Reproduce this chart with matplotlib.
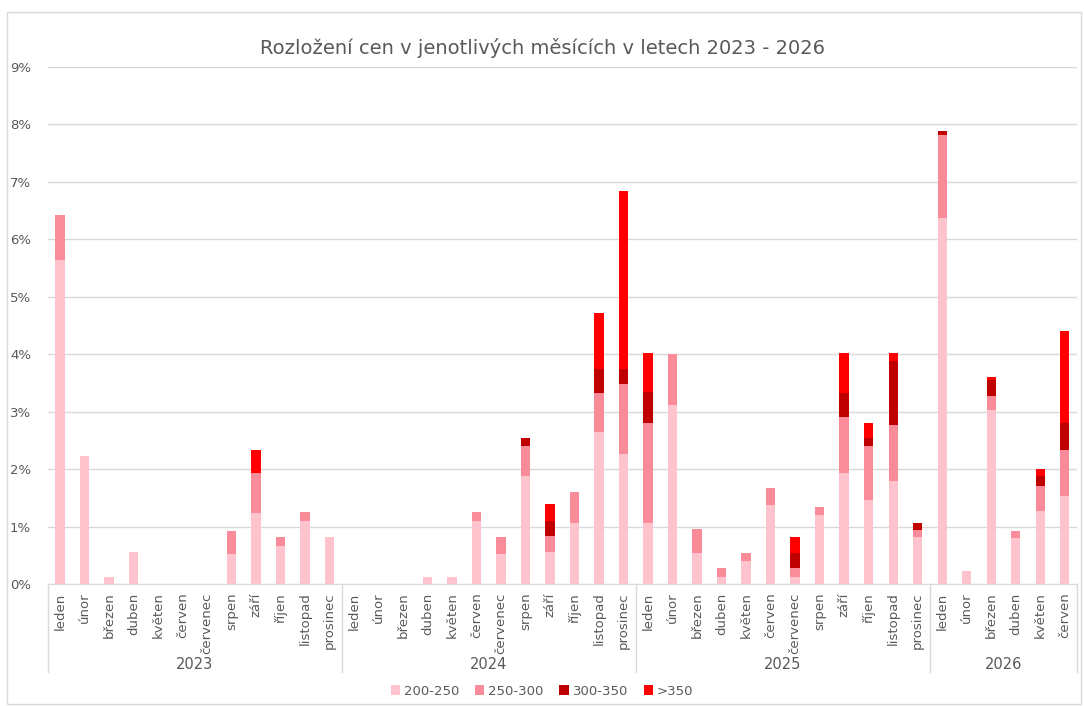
import matplotlib
import matplotlib.pyplot as plt
from matplotlib.patches import Rectangle
from matplotlib.ticker import PercentFormatter
import numpy as np

matplotlib.use('Agg')

years = ['2023', '2024', '2025', '2026']
months = ['leden', 'únor', 'březen', 'duben', 'květen', 'červen', 'červenec',
          'srpen', 'září', 'říjen', 'listopad', 'prosinec']
months_per_year = [12, 12, 12, 6]

series_names = ['200-250', '250-300', '300-350', '>350']
colors = ['#FFC3CE', '#FA8C9A', '#C00000', '#FF0000']

# hodnoty v procentech
p200_250 = [5.64, 2.23, 0.13, 0.56, 0, 0, 0, 0.53, 1.24, 0.67, 1.10, 0.81,
            0, 0, 0, 0.13, 0.13, 1.10, 0.53, 1.88, 0.56, 1.07, 2.64, 2.27,
            1.07, 3.12, 0.54, 0.13, 0.40, 1.37, 0.13, 1.20, 1.94, 1.47, 1.80, 0.81,
            6.37, 0.22, 3.03, 0.80, 1.27, 1.53]
p250_300 = [0.79, 0, 0, 0, 0, 0, 0, 0.40, 0.70, 0.14, 0.15, 0,
            0, 0, 0, 0, 0, 0.15, 0.28, 0.53, 0.27, 0.53, 0.68, 1.21,
            1.74, 0.88, 0.41, 0.14, 0.14, 0.30, 0.14, 0.14, 0.97, 0.94, 0.97, 0.13,
            1.44, 0, 0.25, 0.13, 0.43, 0.81]
p300_350 = [0, 0, 0, 0, 0, 0, 0, 0, 0, 0, 0, 0,
            0, 0, 0, 0, 0, 0, 0, 0.14, 0.27, 0, 0.42, 0.27,
            0.53, 0, 0, 0, 0, 0, 0.27, 0, 0.41, 0.14, 1.11, 0.13,
            0.07, 0, 0.27, 0, 0.18, 0.47]
p350 = [0, 0, 0, 0, 0, 0, 0, 0, 0.40, 0, 0, 0,
        0, 0, 0, 0, 0, 0, 0, 0, 0.29, 0, 0.97, 3.09,
        0.68, 0, 0, 0, 0, 0, 0.27, 0, 0.70, 0.26, 0.14, 0,
        0, 0, 0.05, 0, 0.13, 1.59]

labels = []
for n in months_per_year:
    labels += months[:n]

data = np.array([p200_250, p250_300, p300_350, p350]) / 100
x = np.arange(len(labels))

fig = plt.figure(figsize=(10.84, 7.06), dpi=100)
ax = fig.add_axes([0.044, 0.1728, 0.9495, 0.7323])

bottom = np.zeros(len(labels))
for name, vals, c in zip(series_names, data, colors):
    ax.bar(x, vals, 0.38, bottom=bottom, color=c, label=name, zorder=3)
    bottom += vals

gray = '#595959'
line = '#D9D9D9'
ax.set_ylim(0, 0.09)
ax.set_yticks(np.arange(0, 0.091, 0.01))
ax.yaxis.set_major_formatter(PercentFormatter(1, decimals=0))
ax.set_xlim(-0.5, len(labels) - 0.5)
ax.set_xticks(x)
ax.set_xticklabels(labels, rotation=90, fontsize=9.5, color=gray)
ax.tick_params(axis='x', length=0, pad=6)
ax.tick_params(axis='y', length=0, labelsize=9.5, labelcolor=gray, pad=12)
ax.grid(axis='y', color=line, linewidth=1, zorder=0)
for s in ['left', 'right', 'top']:
    ax.spines[s].set_visible(False)
ax.spines['bottom'].set_color(line)

# skupiny let pod osou
trans = ax.get_xaxis_transform()
edges = np.concatenate([[0], np.cumsum(months_per_year)]) - 0.5
for e in edges:
    ax.plot([e, e], [0, -0.171], color=line, lw=1, transform=trans, clip_on=False)
for i, y in enumerate(years):
    ax.text((edges[i] + edges[i + 1]) / 2, -0.155, y, transform=trans,
            ha='center', va='center', fontsize=10.5, color=gray)

fig.suptitle('Rozložení cen v jenotlivých měsících v letech 2023 - 2026',
             y=0.946, fontsize=14, color=gray)
fig.legend(loc='center', bbox_to_anchor=(0.5, 0.021), ncol=4, frameon=False,
           fontsize=9.5, handlelength=0.7, handleheight=0.7, handletextpad=0.3,
           columnspacing=1.2, labelcolor=gray)

fig.patches.append(Rectangle((0.0065, 0.003), 0.991, 0.98, transform=fig.transFigure,
                             fill=False, edgecolor=line, lw=1))

fig.savefig('out.png', dpi=100)
